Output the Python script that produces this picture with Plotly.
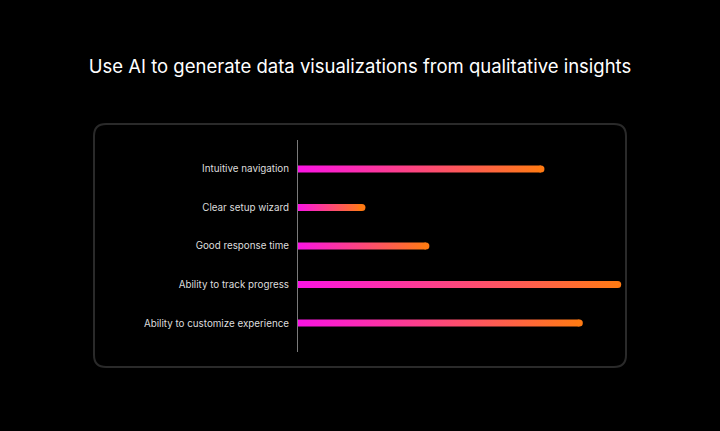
import plotly.graph_objects as go

categories = ["Intuitive navigation", "Clear setup wizard", "Good response time",
              "Ability to track progress", "Ability to customize experience"]
values = [38, 10, 20, 50, 44]
title_text = "Use AI to generate data visualizations from qualitative insights"

MAG = "#FA14E4"
ORG = "#FF7A14"

W, H = 720, 431
L, R, T, B = 298, 94, 140, 79
PW, PH = W - L - R, H - T - B
XMAX = 51.3
HALF = 0.09  # bar half-thickness in category units

fig = go.Figure()
for i, (cat, v) in enumerate(zip(categories, values)):
    fig.add_trace(go.Scatter(
        x=[0, v, v, 0, 0], y=[i - HALF, i - HALF, i + HALF, i + HALF, i - HALF],
        mode="lines", fill="toself", line=dict(width=0, color=ORG),
        fillgradient=dict(type="horizontal", colorscale=[[0, MAG], [1, ORG]]),
        hoverinfo="skip", showlegend=False))
    fig.add_trace(go.Scatter(
        x=[v], y=[i], mode="markers", marker=dict(size=7, color=ORG, line=dict(width=0)),
        cliponaxis=False, hoverinfo="skip", showlegend=False))

# rounded panel border (pixel -> paper conversion)
def px(x):
    return (x - L) / PW

def py(y):
    return (H - B - y) / PH

x0, x1, y0, y1, r = 94, 626, 124, 367, 12
path = (f"M {px(x0 + r)} {py(y0)} L {px(x1 - r)} {py(y0)} "
        f"Q {px(x1)} {py(y0)} {px(x1)} {py(y0 + r)} "
        f"L {px(x1)} {py(y1 - r)} Q {px(x1)} {py(y1)} {px(x1 - r)} {py(y1)} "
        f"L {px(x0 + r)} {py(y1)} Q {px(x0)} {py(y1)} {px(x0)} {py(y1 - r)} "
        f"L {px(x0)} {py(y0 + r)} Q {px(x0)} {py(y0)} {px(x0 + r)} {py(y0)} Z")

fig.update_layout(
    width=W, height=H,
    margin=dict(l=L, r=R, t=T, b=B),
    paper_bgcolor="#000000", plot_bgcolor="rgba(0,0,0,0)",
    font=dict(family="Inter, sans-serif", color="#E0E0E0"),
    title=dict(text=title_text, x=0.5, xanchor="center", xref="container",
               y=1 - 67 / H, yref="container", yanchor="middle",
               font=dict(size=18.5, color="#FFFFFF", family="Inter, sans-serif")),
    shapes=[dict(type="path", path=path, xref="paper", yref="paper",
                 line=dict(color="#2A2A2A", width=2), fillcolor="rgba(0,0,0,0)", layer="below")],
    xaxis=dict(range=[0, XMAX], visible=False, fixedrange=True),
    yaxis=dict(range=[4.75, -0.75], tickmode="array", tickvals=list(range(len(categories))),
               ticktext=categories, showgrid=False, zeroline=False,
               showline=True, linecolor="#7A7A7A", linewidth=1,
               ticks="", ticklabelstandoff=6,
               tickfont=dict(size=9.8, color="#DDDDDD", family="Inter, sans-serif")),
)

fig.write_html("out.html")
